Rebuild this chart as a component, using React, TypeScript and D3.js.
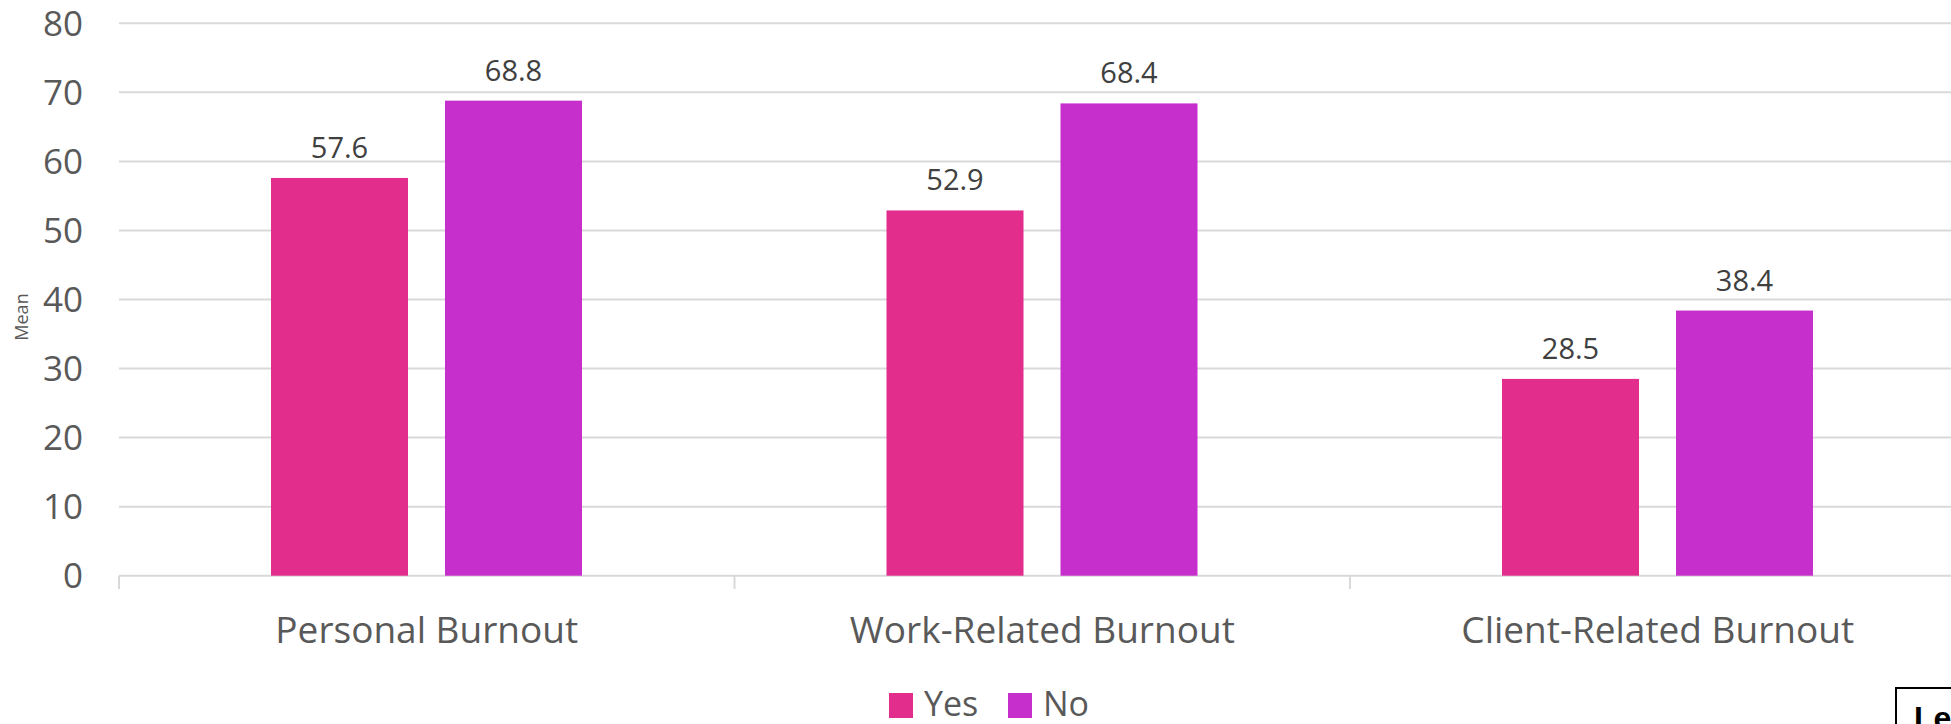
import React from "react";
import * as d3 from "d3";

const categories = ["Personal Burnout", "Work-Related Burnout", "Client-Related Burnout"];
const seriesNames = ["Yes", "No"];
const yesValues = [57.6, 52.9, 28.5];
const noValues = [68.8, 68.4, 38.4];
const yTicks = [0, 10, 20, 30, 40, 50, 60, 70, 80];
const colors = ["#E32D8D", "#C62FCB"];

const W = 1951;
const H = 724;
const FONT = "'Open Sans', 'Noto Sans', sans-serif";

export default function App() {
  const x0 = d3.scaleBand<string>().domain(categories).range([119, 1965.5]).padding(0);
  const x1 = d3
    .scaleBand<string>()
    .domain(seriesNames)
    .range([152, 463])
    .paddingInner(0.2126)
    .paddingOuter(0);
  const y = d3.scaleLinear().domain([0, 80]).range([575.7, 23.3]);
  const seriesData = [yesValues, noValues];
  const boundaries = [...categories.map((c) => x0(c) as number), 1965.5];

  return (
    <svg
      width={W}
      height={H}
      style={{ position: "absolute", left: 0, top: 0, background: "#fff" }}
      fontFamily={FONT}
    >
      <rect x={0} y={0} width={W} height={H} fill="#fff" />
      {yTicks.map((t) => (
        <g key={t}>
          <line x1={119} x2={W} y1={y(t)} y2={y(t)} stroke="#D9D9D9" strokeWidth={2} />
          <text x={83} y={y(t) + 12.5} textAnchor="end" fontSize={35} fill="#595959">
            {t}
          </text>
        </g>
      ))}
      {boundaries.map((b, i) => (
        <line key={i} x1={b} x2={b} y1={y(0)} y2={589} stroke="#D9D9D9" strokeWidth={2} />
      ))}
      {categories.map((c, ci) => (
        <g key={c}>
          {seriesNames.map((s, si) => {
            const v = seriesData[si][ci];
            const bx = (x0(c) as number) + (x1(s) as number);
            const bw = x1.bandwidth();
            return (
              <g key={s}>
                <rect x={bx} y={y(v)} width={bw} height={y(0) - y(v)} fill={colors[si]} />
                <text
                  x={bx + bw / 2}
                  y={y(v) - 20}
                  textAnchor="middle"
                  fontSize={29}
                  fill="#404040"
                >
                  {v.toFixed(1)}
                </text>
              </g>
            );
          })}
          <text
            x={(x0(c) as number) + x0.bandwidth() / 2}
            y={643}
            textAnchor="middle"
            fontSize={37}
            fill="#595959"
          >
            {c}
          </text>
        </g>
      ))}
      <text
        transform={`translate(28,317) rotate(-90)`}
        textAnchor="middle"
        fontSize={18}
        fill="#595959"
      >
        Mean
      </text>
      {seriesNames.map((s, i) => {
        const lx = i === 0 ? 889 : 1008;
        return (
          <g key={s}>
            <rect x={lx} y={693} width={24} height={25} fill={colors[i]} />
            <text x={lx + 35} y={716} fontSize={34} fill="#595959">
              {s}
            </text>
          </g>
        );
      })}
      <rect x={1896} y={688} width={80} height={60} fill="#fff" stroke="#000" strokeWidth={2} />
      <text x={1914} y={729} fontSize={32} fontWeight="bold" fill="#000" fontFamily="'Liberation Sans', Arial, sans-serif">
        Le
      </text>
    </svg>
  );
}
